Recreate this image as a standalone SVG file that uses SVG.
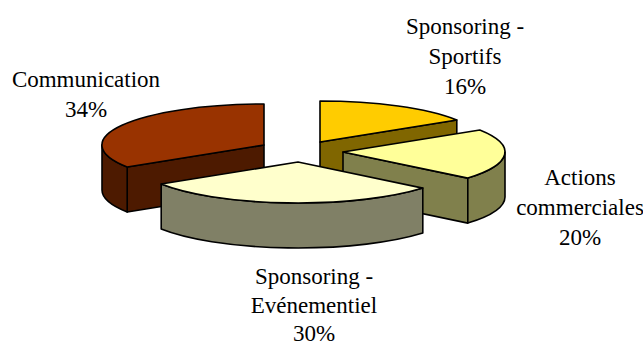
<svg xmlns="http://www.w3.org/2000/svg" width="643" height="345" viewBox="0 0 643 345">
<style>
.f{stroke:#000;stroke-width:1.6;stroke-linejoin:round}
.lbl{font-family:"Liberation Serif","Times New Roman",serif;font-size:23px;fill:#000;text-anchor:middle}
</style>
<rect width="643" height="345" fill="#fff"/>
<g id="slice-communication">
<path class="f" fill="#4D1A00" d="M264,145 L127.2,167 L127.2,212 L264,190 Z"/>
<path class="f" fill="#4D1A00" d="M127.2,167 A162,41 0 0,1 102,145 L102,190 A162,41 0 0,0 127.2,212 Z"/>
<path class="f" fill="#993300" d="M264,145 L127.2,167 A162,41 0 0,1 264,104 Z"/>
</g>
<g id="slice-sportifs">
<path class="f" fill="#806600" d="M320,142 L456.8,120 L456.8,165 L320,187 Z"/>
<path class="f" fill="#FFCC00" d="M320,142 L320,101 A162,41 0 0,1 456.8,120 Z"/>
</g>
<g id="slice-actions">
<path class="f" fill="#80804C" d="M343,152 L467.8,178.1 L467.8,223.1 L343,197 Z"/>
<path class="f" fill="#80804C" d="M505,152 A162,41 0 0,1 467.8,178.1 L467.8,223.1 A162,41 0 0,0 505,197 Z"/>
<path class="f" fill="#FFFF99" d="M343,152 L479.8,130 A162,41 0 0,1 467.8,178.1 Z"/>
</g>
<g id="slice-evenementiel">
<path class="f" fill="#808066" d="M422.8,188.1 A162,41 0 0,1 161.2,184 L161.2,229 A162,41 0 0,0 422.8,233.1 Z"/>
<path class="f" fill="#FFFFCC" d="M298,162 L422.8,188.1 A162,41 0 0,1 161.2,184 Z"/>
</g>
<g id="labels">
<text class="lbl" x="86" y="87">Communication</text>
<text class="lbl" x="86" y="117">34%</text>
<text class="lbl" x="465" y="34">Sponsoring -</text>
<text class="lbl" x="465" y="64">Sportifs</text>
<text class="lbl" x="465" y="94">16%</text>
<text class="lbl" x="580" y="185">Actions</text>
<text class="lbl" x="580" y="215">commerciales</text>
<text class="lbl" x="580" y="245">20%</text>
<text class="lbl" x="314" y="284">Sponsoring -</text>
<text class="lbl" x="314" y="313">Evénementiel</text>
<text class="lbl" x="314" y="341">30%</text>
</g>
</svg>
